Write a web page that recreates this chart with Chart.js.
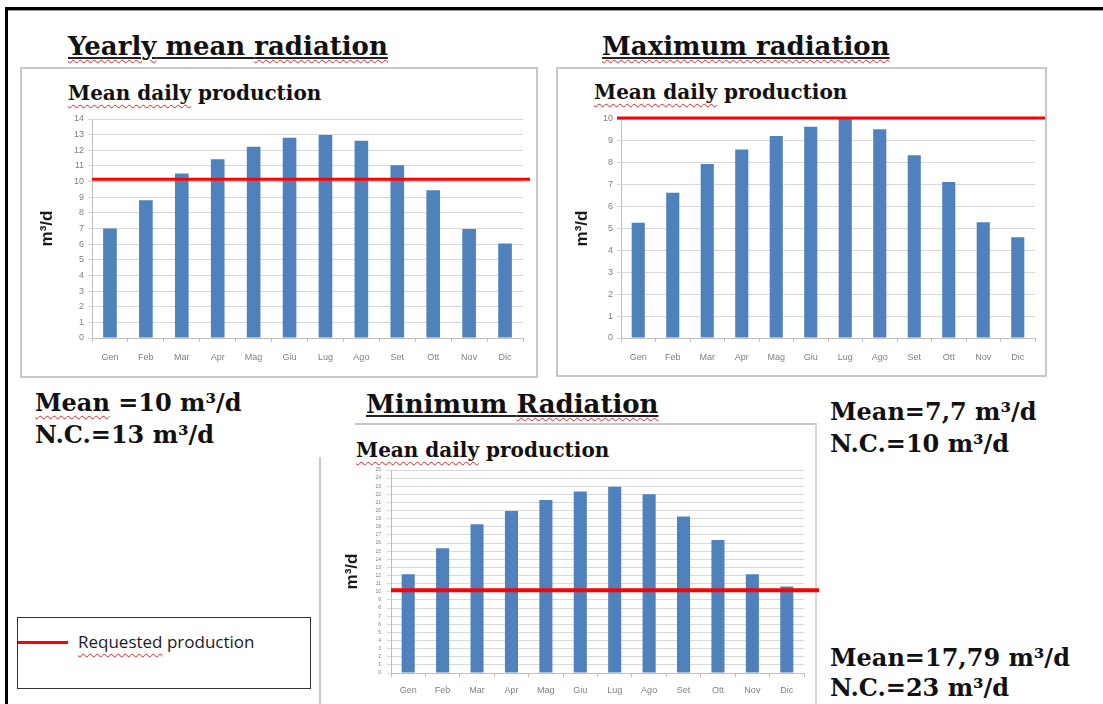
<!DOCTYPE html>
<html>
<head>
<meta charset="utf-8">
<script src="https://cdn.jsdelivr.net/npm/chart.js@4.4.1/dist/chart.umd.min.js"></script>
<style>
  html, body { margin: 0; padding: 0; background: #fff; }
  #page { position: relative; width: 1103px; height: 704px; overflow: hidden; }
  .abs { position: absolute; white-space: nowrap; line-height: 1; }
  .serif { font-family: "DejaVu Serif", "Liberation Serif", serif; font-weight: bold; color: #111; }
  .uline { text-decoration: underline; text-decoration-color: #222; text-decoration-thickness: 2px; text-underline-offset: 2px; }
  .wavy { text-decoration: underline wavy #e02020; text-decoration-thickness: 1px; text-underline-offset: 4px; }
  .box { position: absolute; border: 2px solid #c8c8c8; box-sizing: border-box; }
  canvas { position: absolute; }
</style>
</head>
<body>
<div id="page">
  <!-- outer frame -->
  <div style="position:absolute;left:5px;top:7px;width:1110px;height:3px;background:#000"></div>
  <div style="position:absolute;left:5px;top:10px;width:1110px;height:1px;background:#999"></div>
  <div style="position:absolute;left:5px;top:7px;width:3px;height:720px;background:#000"></div>

  <!-- chart frames -->
  <div class="box" style="left:20px;top:67px;width:518px;height:311px"></div>
  <div class="box" style="left:556px;top:67px;width:491px;height:310px"></div>
  <div style="position:absolute;left:355px;top:423px;width:462px;height:2px;background:#c8c8c8"></div>
  <div style="position:absolute;left:815px;top:423px;width:2px;height:290px;background:#d8d8d8"></div>
  <div style="position:absolute;left:319px;top:457px;width:2px;height:260px;background:#c8c8c8"></div>

  <!-- titles -->
  <div class="abs serif" style="left:68px;top:33px;font-size:26px"><span class="uline"><span class="wavy">Yearly</span> mean <span class="wavy">radiation</span></span></div>
  <div class="abs serif" style="left:602px;top:33px;font-size:26px"><span class="uline"><span class="wavy">Maximum radiation</span></span></div>
  <div class="abs serif" style="left:366px;top:391px;font-size:26px"><span class="uline">Minimum <span class="wavy">Radiation</span></span></div>

  <div class="abs serif" style="left:68px;top:83px;font-size:20px"><span class="wavy">Mean daily</span> production</div>
  <div class="abs serif" style="left:594px;top:82px;font-size:20px"><span class="wavy">Mean daily</span> production</div>
  <div class="abs serif" style="left:356px;top:440px;font-size:20px"><span class="wavy">Mean daily</span> production</div>

  <!-- summary values -->
  <div class="abs serif" style="left:35px;top:391px;font-size:24px"><span class="wavy">Mean</span> =10 m³/d</div>
  <div class="abs serif" style="left:35px;top:423px;font-size:24px">N.C.=13 m³/d</div>
  <div class="abs serif" style="left:830px;top:400px;font-size:24px">Mean=7,7 m³/d</div>
  <div class="abs serif" style="left:830px;top:432px;font-size:24px">N.C.=10 m³/d</div>
  <div class="abs serif" style="left:830px;top:646px;font-size:24px">Mean=17,79 m³/d</div>
  <div class="abs serif" style="left:830px;top:676px;font-size:24px">N.C.=23 m³/d</div>

  <!-- legend -->
  <div style="position:absolute;left:17px;top:617px;width:294px;height:72px;border:1px solid #333;box-sizing:border-box;background:#fff"></div>
  <div style="position:absolute;left:18px;top:641px;width:50px;height:3px;background:#ff0000"></div>
  <div class="abs" style="left:78px;top:633px;font-size:17px;font-family:'Open Sans',sans-serif;color:#1a1a2a"><span class="wavy" style="text-underline-offset:5px">Requested</span> production</div>

  <canvas id="chartYearly" width="520" height="272" style="left:20px;top:105px"></canvas>
  <canvas id="chartMax" width="492" height="272" style="left:556px;top:105px"></canvas>
  <canvas id="chartMin" width="503" height="246" style="left:321px;top:458px"></canvas>
</div>

<script>
// months (Italian abbreviations)
const months = ['Gen', 'Feb', 'Mar', 'Apr', 'Mag', 'Giu', 'Lug', 'Ago', 'Set', 'Ott', 'Nov', 'Dic'];

// mean daily production, m3/d
const yearlyMeanProd = [7.0, 8.8, 10.52, 11.42, 12.23, 12.8, 12.97, 12.61, 11.05, 9.45, 6.97, 6.04];
const maxRadiationProd = [5.26, 6.63, 7.94, 8.61, 9.22, 9.65, 10.0, 9.53, 8.34, 7.12, 5.29, 4.6];
const minRadiationProd = [12.17, 15.37, 18.32, 19.96, 21.31, 22.34, 22.95, 22.0, 19.26, 16.39, 12.17, 10.66];

// requested production level shown as the red line
const requestedYearly = 10.15;
const requestedMax = 10.05;
const requestedMin = 10.2;

// y axis ranges
const yMaxYearly = 14;
const yMaxMax = 10;
const yMaxMin = 25;

const BAR_COLOR = '#4f81bd';
const GRID_COLOR = '#d9d9d9';
const TICK_COLOR = '#808080';

// draws the requested production line across the plot area
const requestedLine = {
  id: 'requestedLine',
  afterDatasetsDraw(chart, args, opts) {
    const y = chart.scales.y.getPixelForValue(opts.value);
    const { left, right } = chart.chartArea;
    const ctx = chart.ctx;
    ctx.save();
    ctx.strokeStyle = '#ff0000';
    ctx.lineWidth = opts.width || 3;
    ctx.beginPath();
    ctx.moveTo(left + (opts.from || 0), y);
    ctx.lineTo(right + (opts.extend || 0), y);
    ctx.stroke();
    ctx.restore();
  }
};

function buildChart(canvasId, values, yMax, requested, layout) {
  const canvas = document.getElementById(canvasId);
  return new Chart(canvas, {
    type: 'bar',
    data: {
      labels: months,
      datasets: [{
        data: values,
        backgroundColor: BAR_COLOR,
        borderWidth: 0,
        categoryPercentage: 1,
        barPercentage: 0.38
      }]
    },
    plugins: [requestedLine],
    options: {
      responsive: false,
      animation: false,
      devicePixelRatio: 1,
      layout: { padding: layout.padding },
      plugins: {
        legend: { display: false },
        tooltip: { enabled: false },
        requestedLine: {
          value: requested,
          from: layout.lineFrom,
          extend: layout.lineExtend,
          width: layout.lineWidth
        }
      },
      scales: {
        x: {
          grid: { display: true, drawOnChartArea: false, drawTicks: true, tickLength: 4, color: '#bfbfbf' },
          border: { color: '#bfbfbf' },
          ticks: {
            color: TICK_COLOR,
            padding: layout.xPad,
            maxRotation: 0,
            font: { family: 'Liberation Sans', size: 9 }
          },
          afterFit(scale) { scale.height = layout.xHeight; }
        },
        y: {
          min: 0,
          max: yMax,
          grid: { color: GRID_COLOR, tickLength: 4 },
          border: { color: '#bfbfbf' },
          ticks: {
            stepSize: 1,
            autoSkip: false,
            color: TICK_COLOR,
            padding: layout.yPad,
            font: { family: 'Liberation Sans', size: layout.yFont }
          },
          title: {
            display: true,
            text: 'm³/d',
            color: '#1a1a1a',
            padding: { top: layout.titlePad, bottom: 0 },
            font: { family: 'Liberation Sans', size: 17, weight: 'bold' }
          },
          afterFit(scale) { scale.width = layout.yWidth; }
        }
      }
    }
  });
}

buildChart('chartYearly', yearlyMeanProd, yMaxYearly, requestedYearly, {
  padding: { top: 14, right: 17, bottom: 0, left: 0 },
  yWidth: 72, xHeight: 39, xPad: 10, yPad: 4, yFont: 9, titlePad: 17,
  lineFrom: 0, lineExtend: 7, lineWidth: 3
});

buildChart('chartMax', maxRadiationProd, yMaxMax, requestedMax, {
  padding: { top: 14, right: 13, bottom: 0, left: 0 },
  yWidth: 65, xHeight: 39, xPad: 10, yPad: 4, yFont: 9, titlePad: 16,
  lineFrom: -4, lineExtend: 10, lineWidth: 3
});

buildChart('chartMin', minRadiationProd, yMaxMin, requestedMin, {
  padding: { top: 12, right: 20, bottom: 0, left: 0 },
  yWidth: 70, xHeight: 31, xPad: 8, yPad: 6, yFont: 5, titlePad: 21,
  lineFrom: 0, lineExtend: 15, lineWidth: 4
});
</script>
</body>
</html>
